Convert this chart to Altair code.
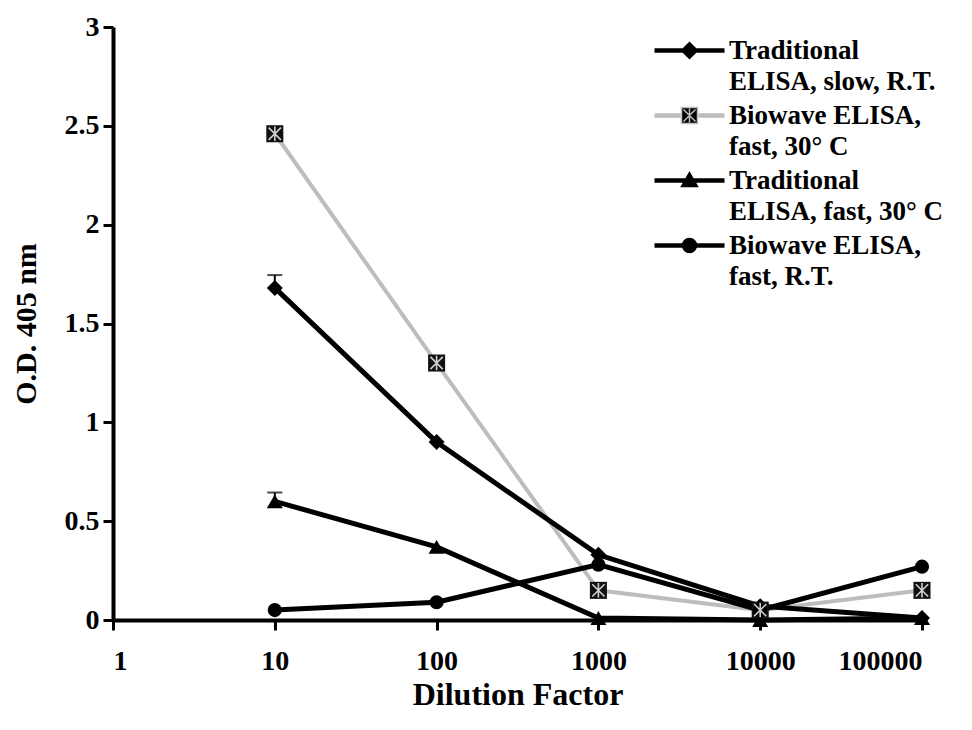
import altair as alt
import pandas as pd

# ---------------- data ----------------
dilution = [10, 100, 1000, 10000, 100000]
series_names = [
    "Traditional|ELISA, slow, R.T.",
    "Biowave ELISA,|fast, 30° C",
    "Traditional|ELISA, fast, 30° C",
    "Biowave ELISA,|fast, R.T.",
]
trad_slow_rt = [1.68, 0.90, 0.33, 0.07, 0.01]
biowave_fast_30 = [2.46, 1.30, 0.15, 0.05, 0.15]
trad_fast_30 = [0.60, 0.37, 0.01, 0.00, 0.01]
biowave_fast_rt = [0.05, 0.09, 0.28, 0.05, 0.27]
err_trad_slow_rt = [0.065, 0.0, 0.0, 0.0, 0.0]
err_biowave_fast_30 = [0.0, 0.0, 0.0, 0.0, 0.0]
err_trad_fast_30 = [0.045, 0.0, 0.0, 0.0, 0.0]
err_biowave_fast_rt = [0.0, 0.0, 0.0, 0.0, 0.0]

x_ticks = [1, 10, 100, 1000, 10000, 100000]
y_ticks = [0, 0.5, 1, 1.5, 2, 2.5, 3]

values = [trad_slow_rt, biowave_fast_30, trad_fast_30, biowave_fast_rt]
errors = [err_trad_slow_rt, err_biowave_fast_30, err_trad_fast_30, err_biowave_fast_rt]

rows = []
for name, vals, errs in zip(series_names, values, errors):
    for d, v, e in zip(dilution, vals, errs):
        rows.append({"series": name, "dilution": d, "od": v, "err": e, "top": v + e})
df = pd.DataFrame(rows)

# ---------------- styles ----------------
FONT = "Liberation Serif"
GRAY = "#bdbdbd"
marker_shapes = ["diamond", "square", "triangle-up", "circle"]
marker_fills = ["black", "#111111", "black", "black"]
marker_sizes = [256, 290, 256, 200]


def legend_path(marker, dy, full_line=True):
    ln = ""
    for o in (-1.5, 0, 1.5):
        yy = dy + o
        if full_line:
            ln += f"M-35,{yy}H35"
        else:
            ln += f"M-35,{yy}H-9M9,{yy}H35"
    return ln + marker


DY = 0
legend_paths = [
    legend_path(f"M-8,{DY}L0,{DY-8}L8,{DY}L0,{DY+8}Z", DY),
    legend_path(
        f"M-8,{DY-8}H8V{DY+8}H-8Z"
        f"M-6,{DY-6}L6,{DY+6}M6,{DY-6}L-6,{DY+6}M0,{DY-7}V{DY+7}",
        DY,
        full_line=False,
    ),
    legend_path(f"M0,{DY-8}L8,{DY+6}L-8,{DY+6}Z", DY),
    legend_path(f"M-7,{DY}A7,7 0 1,1 7,{DY}A7,7 0 1,1 -7,{DY}Z", DY),
]
legend_strokes = ["black", GRAY, "black", "black"]

x_enc = alt.X(
    "dilution:Q",
    scale=alt.Scale(type="log", domain=[1, 100000]),
    axis=alt.Axis(values=x_ticks, format="d", title="Dilution Factor",
                  labelPadding=17, titlePadding=4, titleFontSize=32),
)
y_enc = alt.Y(
    "od:Q",
    scale=alt.Scale(domain=[0, 3]),
    axis=alt.Axis(values=y_ticks, format="~g", title="O.D. 405 nm",
                  labelPadding=4, titlePadding=23, titleFontSize=30),
)

base = alt.Chart(df)

gray_line = base.transform_filter(
    alt.datum.series == series_names[1]
).mark_line(strokeWidth=4, color=GRAY).encode(x=x_enc, y=y_enc)

black_lines = base.transform_filter(
    alt.datum.series != series_names[1]
).mark_line(strokeWidth=5, color="black").encode(
    x=x_enc, y=y_enc, detail="series:N"
)

marker_layers = []
for name, shp, fc, sz in zip(series_names, marker_shapes, marker_fills, marker_sizes):
    marker_layers.append(
        base.transform_filter(alt.datum.series == name)
        .mark_point(shape=shp, filled=True, size=sz, opacity=1, color=fc)
        .encode(x=x_enc, y=y_enc)
    )

cross = base.transform_filter(
    alt.datum.series == series_names[1]
).mark_point(
    shape="M-0.72,-0.72L0.72,0.72M0.72,-0.72L-0.72,0.72M0,-0.85L0,0.85",
    size=290, stroke="#d0d0d0", strokeWidth=1.6, filled=False, opacity=1,
).encode(x=x_enc, y=y_enc)

err_data = base.transform_filter(alt.datum.err > 0)
err_rule = err_data.mark_rule(color="black", strokeWidth=2).encode(
    x=x_enc, y=y_enc, y2="top:Q"
)
err_cap = err_data.mark_tick(color="black", orient="horizontal", size=15, thickness=2).encode(
    x=x_enc, y=alt.Y("top:Q")
)

leg = alt.Legend(
    title=None, orient="none", legendX=563, legendY=10,
    symbolSize=4, symbolStrokeWidth=1.5, symbolOffset=0, labelOffset=26,
    labelFont=FONT, labelFontSize=27, labelFontWeight="bold", labelColor="black",
    labelExpr="split(datum.label, '|')", labelLimit=400, rowPadding=6, padding=0,
    symbolOpacity=1,
)

legend_layer = base.transform_filter("false").mark_point(
    filled=True, fill="black", size=4, strokeWidth=1.5, opacity=1
).encode(
    x=x_enc,
    y=y_enc,
    shape=alt.Shape("series:N", scale=alt.Scale(domain=series_names, range=legend_paths), legend=leg),
    stroke=alt.Stroke("series:N", scale=alt.Scale(domain=series_names, range=legend_strokes), legend=leg),
)

chart = alt.layer(
    gray_line, black_lines, err_rule, err_cap, *marker_layers, cross, legend_layer
).properties(
    width=809, height=593,
    autosize=alt.AutoSizeParams(type="none"),
    padding={"left": 113, "top": 27, "right": 50, "bottom": 110},
    background="white",
).configure(
    style={"guide-label": {"lineHeight": 31}}
).configure_view(stroke=None).configure_axis(
    grid=False,
    domainColor="black", domainWidth=4,
    tickColor="black", tickWidth=3, tickSize=10,
    labelFont=FONT, labelFontSize=28, labelFontWeight="bold", labelColor="black",
    titleFont=FONT, titleFontWeight="bold", titleColor="black",
)

chart.save("out.html", embed_options={"renderer": "svg", "actions": False})
